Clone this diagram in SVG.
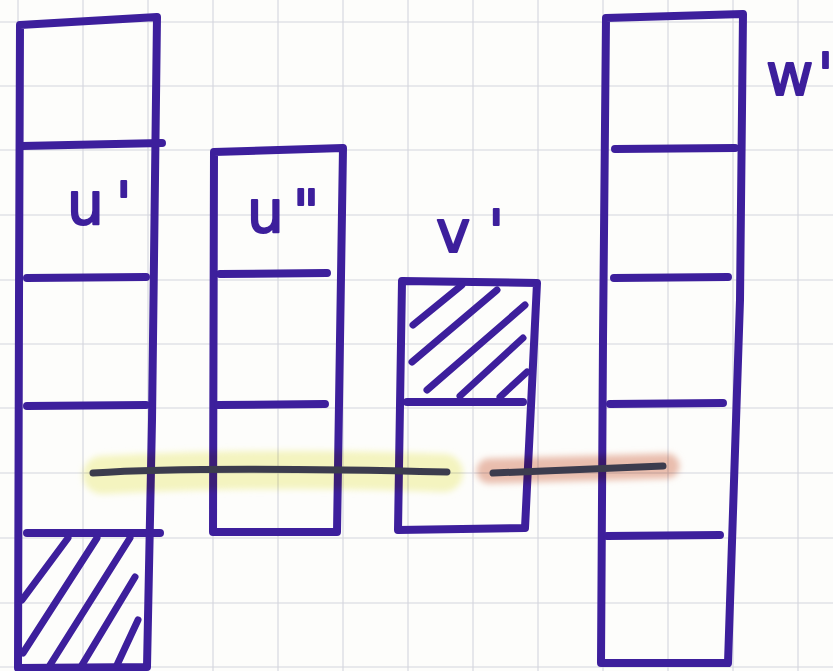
<svg xmlns="http://www.w3.org/2000/svg" width="833" height="671" viewBox="0 0 833 671">
  <defs>
    <style>
      .grid line { stroke: #d3d5de; stroke-width: 1.1; }
      .ink { fill: none; stroke: #3d1f9c; stroke-width: 8; stroke-linecap: round; stroke-linejoin: round; }
      .hatch { fill: none; stroke: #3d1f9c; stroke-width: 7; stroke-linecap: round; }
      .lbl { font-family: "DejaVu Sans", "Liberation Sans", sans-serif; font-size: 58px; fill: #3d1f9c; stroke: #3d1f9c; stroke-width: 2; stroke-linejoin: round; }
      .band { fill: none; stroke-linecap: round; mix-blend-mode: multiply; filter: url(#soft); }
      .edge { fill: none; stroke: #3c3c4e; stroke-width: 7; stroke-linecap: round; stroke-linejoin: round; }
    </style>
    <filter id="soft" filterUnits="userSpaceOnUse" x="0" y="0" width="833" height="671">
      <feGaussianBlur stdDeviation="3"/>
    </filter>
  </defs>

  <rect width="833" height="671" fill="#fdfdfb"/>

  <g class="grid">
    <line x1="18" y1="0" x2="18" y2="671"/>
    <line x1="83" y1="0" x2="83" y2="671"/>
    <line x1="148" y1="0" x2="148" y2="671"/>
    <line x1="213" y1="0" x2="213" y2="671"/>
    <line x1="278" y1="0" x2="278" y2="671"/>
    <line x1="343" y1="0" x2="343" y2="671"/>
    <line x1="408" y1="0" x2="408" y2="671"/>
    <line x1="473" y1="0" x2="473" y2="671"/>
    <line x1="538" y1="0" x2="538" y2="671"/>
    <line x1="603" y1="0" x2="603" y2="671"/>
    <line x1="668" y1="0" x2="668" y2="671"/>
    <line x1="733" y1="0" x2="733" y2="671"/>
    <line x1="798" y1="0" x2="798" y2="671"/>
    <line x1="0" y1="22" x2="833" y2="22"/>
    <line x1="0" y1="86" x2="833" y2="86"/>
    <line x1="0" y1="150" x2="833" y2="150"/>
    <line x1="0" y1="215" x2="833" y2="215"/>
    <line x1="0" y1="280" x2="833" y2="280"/>
    <line x1="0" y1="344" x2="833" y2="344"/>
    <line x1="0" y1="408" x2="833" y2="408"/>
    <line x1="0" y1="473" x2="833" y2="473"/>
    <line x1="0" y1="538" x2="833" y2="538"/>
    <line x1="0" y1="603" x2="833" y2="603"/>
    <line x1="0" y1="667" x2="833" y2="667"/>
  </g>

  <g id="node-u1">
    <path class="ink" d="M20,25 L157,17 L152,420 L147,667 L18,668 L19,300 Z"/>
    <path class="ink" d="M22,146 L162,143"/>
    <path class="ink" d="M27,278 L146,277"/>
    <path class="ink" d="M27,406 L146,405"/>
    <path class="ink" d="M27,533 L160,533"/>
    <path class="hatch" d="M68,538 L22,600 M97,538 L23,653 M130,538 L50,665 M135,577 L82,665 M138,620 L117,665"/>
    <text class="lbl" x="67" y="224">u<tspan dx="12">'</tspan></text>
  </g>

  <g id="node-u2">
    <path class="ink" d="M214,152 L343,148 L337,532 L213,532 Z"/>
    <path class="ink" d="M220,274 L327,273"/>
    <path class="ink" d="M218,405 L325,404"/>
    <text class="lbl" x="247" y="232">u<tspan dx="9">"</tspan></text>
  </g>

  <g id="node-v1">
    <path class="ink" d="M402,281 L537,283 L525,528 L398,530 Z"/>
    <path class="ink" d="M407,402 L523,402"/>
    <path class="hatch" d="M413,325 L462,285 M412,362 L497,290 M427,390 L525,305 M460,396 L523,338 M500,397 L527,372"/>
    <text class="lbl" x="436" y="252">v<tspan dx="18">'</tspan></text>
  </g>

  <g id="node-w1">
    <path class="ink" d="M606,18 L743,14 L740,300 L728,663 L601,663 L603,340 Z"/>
    <path class="ink" d="M615,149 L735,148"/>
    <path class="ink" d="M614,278 L728,277"/>
    <path class="ink" d="M610,404 L723,403"/>
    <path class="ink" d="M607,536 L720,535"/>
    <text class="lbl" x="766" y="95">w<tspan dx="4">'</tspan></text>
  </g>

  <g id="connectors">
    <path class="band" stroke="#f6f6c2" stroke-width="38" d="M102,475 Q280,466 444,473"/>
    <path class="band" stroke="#ebbfb0" stroke-width="25" d="M489,471 L667,466"/>
    <path class="edge" d="M93,473 Q200,466 447,472"/>
    <path class="edge" d="M493,473 L663,466"/>
  </g>
</svg>
